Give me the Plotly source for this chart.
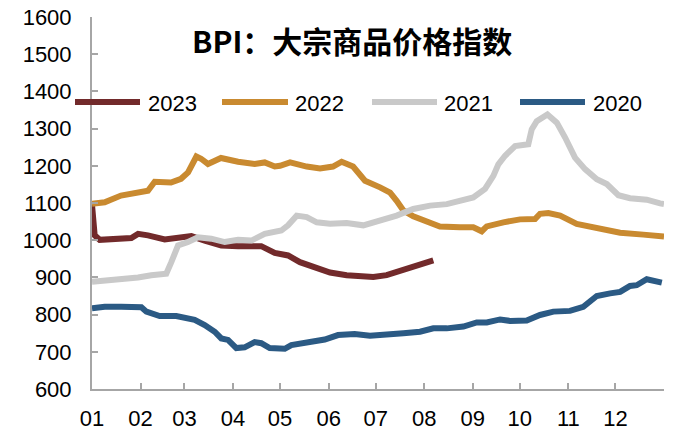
import plotly.graph_objects as go

# ---------------- data (x = day of year, 0 = 1 Jan) ----------------
series_names = ["2023", "2022", "2021", "2020"]
series_colors = ["#722a2b", "#c98a30", "#c9c9c9", "#2b5a84"]

days_2023 = [0, 1.7, 4.9, 14.5, 25.1, 29.4, 35.7, 46.4, 54.9, 63.4, 71.9, 82.5, 93.2,
             103.8, 108, 116.6, 125.1, 132.7, 141.2, 151.9, 162.5, 173.1, 179.5, 188,
             196.6, 205, 211.4, 217.8]
vals_2023 = [1095, 1013, 1001, 1004, 1006, 1017, 1013, 1002, 1008, 1011, 999, 986, 984,
             982, 984, 966, 959, 941, 928, 913, 906, 904, 901, 906, 917, 928, 937, 946]

days_2022 = [0, 8.1, 18.5, 29.4, 35.7, 40, 50.4, 56.8, 61.3, 66.6, 69.6, 74, 82.3, 93.2,
             103.8, 110.2, 116.6, 120, 126.4, 137, 145.5, 153.8, 159.3, 166.6, 174.2,
             183.8, 190.2, 194.4, 198.7, 205, 215.7, 222, 234.8, 243.3, 248.7, 251.9,
             262.5, 273.1, 282.7, 285.9, 291.2, 298.7, 309.3, 324.2, 337, 351.8, 362.5, 365]
vals_2022 = [1098, 1102, 1120, 1128, 1133, 1157, 1155, 1165, 1182, 1225, 1219, 1205, 1221,
             1211, 1205, 1209, 1198, 1200, 1209, 1198, 1193, 1198, 1211, 1198, 1160,
             1142, 1128, 1106, 1080, 1064, 1046, 1037, 1035, 1035, 1024, 1037,
             1048, 1056, 1057, 1071, 1073, 1066, 1044, 1031, 1020, 1015, 1010, 1010]

days_2021 = [0, 5.7, 10.2, 18.7, 29.4, 37.8, 47.4, 50.6, 54.9, 61.3, 67.6, 76.1, 84.7,
             93.2, 101.7, 110.2, 120.8, 125.1, 130.6, 137, 143.4, 151.9, 162.5, 173.1,
             183.8, 194.4, 205, 215.7, 226.4, 234.8, 243.3, 250.8, 256.1, 259.3, 263.6,
             270, 278.4, 280.6, 283.8, 290.6, 296.6, 301.9, 308.2, 314.6, 322.1, 328.5,
             335.9, 343.3, 354, 362.5, 365]
vals_2021 = [888, 890, 892, 897, 900, 906, 910, 941, 986, 995, 1008, 1004, 995,
             1001, 999, 1017, 1026, 1040, 1066, 1062, 1048, 1044, 1046, 1040,
             1053, 1066, 1084, 1093, 1097, 1106, 1115, 1138, 1173, 1204, 1227,
             1253, 1258, 1298, 1320, 1338, 1316, 1276, 1222, 1191, 1164, 1151,
             1121, 1113, 1109, 1099, 1097]

days_2020 = [0, 8.1, 18.7, 31.5, 34.7, 40, 43.2, 53.8, 61.3, 65.5, 71.9, 78.3, 82.5, 86.8,
             92.1, 97.4, 103.8, 108, 113.4, 123, 127.2, 135.7, 142.1, 148.5, 157, 167.6,
             177.4, 188, 198.7, 209.3, 217.8, 226.4, 237, 245.5, 251.9, 260.4, 266.8,
             277.4, 285.9, 294.4, 305, 313.5, 322.1, 330.6, 337, 343.3, 347.6, 354,
             358.2, 363.6]
vals_2020 = [817, 821, 821, 820, 808, 803, 796, 796, 787, 786, 772, 754, 736, 732,
             710, 712, 726, 723, 710, 708, 718, 723, 730, 733, 745, 748,
             743, 745, 750, 754, 763, 763, 768, 779, 779, 787, 783,
             784, 799, 808, 810, 821, 850, 857, 861, 877, 879, 895,
             891, 886]

month_ticks = [0, 31, 59, 90, 120, 151, 181, 212, 243, 273, 304, 334, 365]
month_labels = ["01", "02", "03", "04", "05", "06", "07", "08", "09", "10", "11", "12", ""]

title_text = "BPI：大宗商品价格指数"

# ---------------- figure ----------------
# the page body has an 8px default margin, so the figure is drawn 8px in
OFF = 8
W, H = 700 - OFF, 430 - OFF
ML, MR, MT, MB = 92 - OFF, 36, 17 - OFF, 41

def px_x(px):
    return (px - OFF - ML) / (W - ML - MR)

def px_y(py):
    return (H - MB - (py - OFF)) / (H - MT - MB)

all_days = [days_2023, days_2022, days_2021, days_2020]
all_vals = [vals_2023, vals_2022, vals_2021, vals_2020]

fig = go.Figure()
for name, color, d, v in zip(series_names, series_colors, all_days, all_vals):
    fig.add_trace(go.Scatter(x=d, y=v, mode="lines", name=name,
                             line=dict(color=color, width=6),
                             showlegend=False, hoverinfo="skip"))

axis_color = "#a6a6a6"
tick_font = dict(family="Liberation Sans, Arial, sans-serif", size=22, color="#000000")

fig.update_xaxes(range=[0, 365], tickmode="array", tickvals=month_ticks, ticktext=month_labels,
                 showline=True, linecolor=axis_color, linewidth=2,
                 ticks="inside", ticklen=6, tickcolor=axis_color, tickwidth=1.5,
                 showgrid=False, zeroline=False, tickfont=tick_font,
                 ticklabelstandoff=9, ticklabeloverflow="allow")
fig.update_yaxes(range=[600, 1600], tick0=600, dtick=100,
                 showline=True, linecolor=axis_color, linewidth=2,
                 ticks="inside", ticklen=6, tickcolor=axis_color, tickwidth=1.5,
                 showgrid=False, zeroline=False, tickfont=tick_font,
                 ticklabelstandoff=14, ticklabeloverflow="allow")

# custom legend (long line samples)
leg_line_start = [75, 222, 372, 520]
leg_line_end = [140, 288, 437, 585]
leg_text_start = [146, 293, 442, 591]
leg_y = 102

shapes = []
annotations = []
for name, color, x0, x1, xt in zip(series_names, series_colors, leg_line_start, leg_line_end, leg_text_start):
    shapes.append(dict(type="line", xref="paper", yref="paper",
                       x0=px_x(x0), x1=px_x(x1), y0=px_y(leg_y), y1=px_y(leg_y),
                       line=dict(color=color, width=6)))
    annotations.append(dict(text=name, xref="paper", yref="paper",
                            x=px_x(xt), y=px_y(leg_y + 1), xanchor="left", yanchor="middle",
                            showarrow=False,
                            font=dict(family="Liberation Sans, Arial, sans-serif", size=22, color="#000000")))

annotations.append(dict(text="<b>" + title_text + "</b>", xref="paper", yref="paper",
                        x=px_x(351.5), y=px_y(40), xanchor="center", yanchor="middle",
                        showarrow=False,
                        font=dict(family="Noto Sans CJK SC, sans-serif", size=30, color="#000000")))

fig.update_layout(width=W, height=H,
                  margin=dict(l=ML, r=MR, t=MT, b=MB, autoexpand=False),
                  paper_bgcolor="white", plot_bgcolor="white",
                  shapes=shapes, annotations=annotations, showlegend=False)

fig.write_html("out.html")
